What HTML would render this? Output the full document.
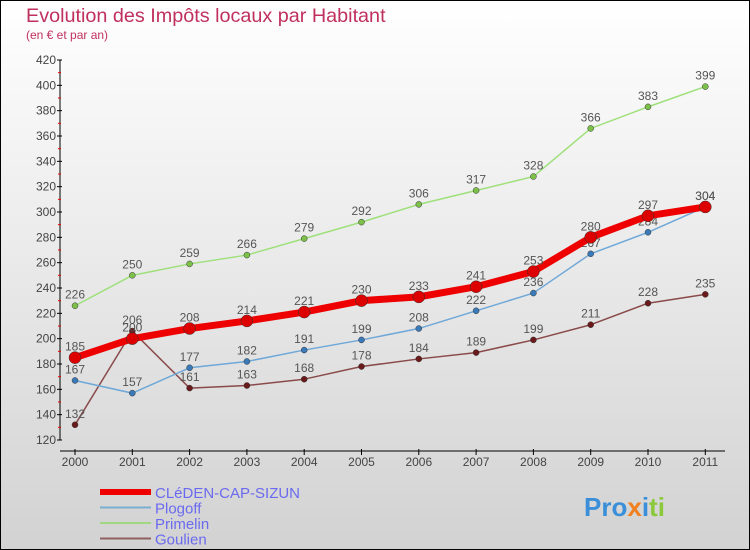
<!DOCTYPE html>
<html><head><meta charset="utf-8"><style>
body{margin:0}
#c{width:750px;height:550px;position:relative;overflow:hidden;font-family:"Liberation Sans",sans-serif}
</style></head><body>
<div id="c">
<svg id="s" width="750" height="550" xmlns="http://www.w3.org/2000/svg">
<defs><linearGradient id="bg" x1="0" y1="0" x2="0" y2="1"><stop offset="0" stop-color="#ffffff"/><stop offset="1" stop-color="#d2d2d2"/></linearGradient></defs>
<rect x="0.5" y="0.5" width="749" height="549" fill="url(#bg)" stroke="#000"/>
<text x="26" y="22" font-size="19.8" fill="#c0305e">Evolution des Impôts locaux par Habitant</text>
<text x="26" y="39" font-size="12" fill="#c0305e">(en € et par an)</text>
<g id="axes"></g><g id="series"></g><g id="legend"></g>
<text x="584" y="516" font-size="26" font-weight="bold"><tspan fill="#3a8fd8">Pro</tspan><tspan fill="#f08020">x</tspan><tspan fill="#3a8fd8">i</tspan><tspan fill="#8cc83c">ti</tspan></text>
</svg>
</div>
<script>
const years=[2000,2001,2002,2003,2004,2005,2006,2007,2008,2009,2010,2011];
const cleden=[185,200,208,214,221,230,233,241,253,280,297,304];
const plogoff=[167,157,177,182,191,199,208,222,236,267,284,304];
const primelin=[226,250,259,266,279,292,306,317,328,366,383,399];
const goulien=[132,206,161,163,168,178,184,189,199,211,228,235];
const yTicks=[120,140,160,180,200,220,240,260,280,300,320,340,360,380,400,420];
const NS="http://www.w3.org/2000/svg";
function X(i){return 75+i*57.3;}
function Y(v){return 440-(v-120)*380/300;}
function mk(tag,attrs,parent){const e=document.createElementNS(NS,tag);for(const k in attrs)e.setAttribute(k,attrs[k]);parent.appendChild(e);return e;}
const ax=document.getElementById('axes');
let yl=mk('line',{x1:60,y1:Y(420),x2:60,y2:Y(120),stroke:'#000'},ax);


yTicks.forEach((t,k)=>{
 mk('line',{x1:57,x2:62,y1:Y(t),y2:Y(t),stroke:'#000'},ax);
 if(k<yTicks.length-1)mk('line',{x1:58,x2:61,y1:Y(t+10),y2:Y(t+10),stroke:'#e00'},ax);
 const tx=mk('text',{x:56,y:Y(t)+4,'font-size':12,'text-anchor':'end',fill:'#444'},ax);
 tx.textContent=t;
 
 
});
let xl=mk('line',{x1:60,y1:451,x2:725,y2:451,stroke:'#000'},ax);


years.forEach((y,i)=>{
 mk('line',{x1:X(i),x2:X(i),y1:449,y2:455,stroke:'#000'},ax);
 const tx=mk('text',{x:X(i),y:466,'font-size':12,'text-anchor':'middle',fill:'#444'},ax);
 tx.textContent=y;
 
 
});
const sg=document.getElementById('series');
function draw(vals,name,color,dot,w,r){
 const g=mk('g',{},sg);
 
 
 const pts=vals.map((v,i)=>X(i)+','+Y(v)).join(' ');
 mk('polyline',{points:pts,fill:'none',stroke:color,'stroke-width':w,'stroke-linejoin':'round'},g);
 vals.forEach((v,i)=>{
  const c=mk('circle',{cx:X(i),cy:Y(v),r:r,fill:dot,stroke:'#333','stroke-width':0.5},g);
  
  
  const t=mk('text',{x:X(i),y:Y(v)-7,'font-size':12,'text-anchor':'middle',fill:'#555'},g);
  t.textContent=v;
  
  
 });
}
draw(primelin,'primelin','#9ee07a','#7cc04a',1.5,3);
draw(goulien,'goulien','#8a4a4a','#6a1a1a',1.5,3);
draw(plogoff,'plogoff','#6fa8d8','#3a7ab8',1.5,3);
draw(cleden,'cleden','#ee0000','#dd0000',7,6);
const lg=document.getElementById('legend');
const leg=[['CLéDEN-CAP-SIZUN','#ee0000',6],['Plogoff','#7aaed0',2],['Primelin','#a0d880',2],['Goulien','#906060',2]];
leg.forEach((l,k)=>{
 const y=492+k*15.5;
 const g=mk('g',{},lg);
 
 
 mk('line',{x1:100,x2:151,y1:y,y2:y,stroke:l[1],'stroke-width':l[2]},g);
 const t=mk('text',{x:155,y:y+6,'font-size':15,fill:'#6a6af0'},g);
 t.textContent=l[0];
});
</script>
</body></html>
